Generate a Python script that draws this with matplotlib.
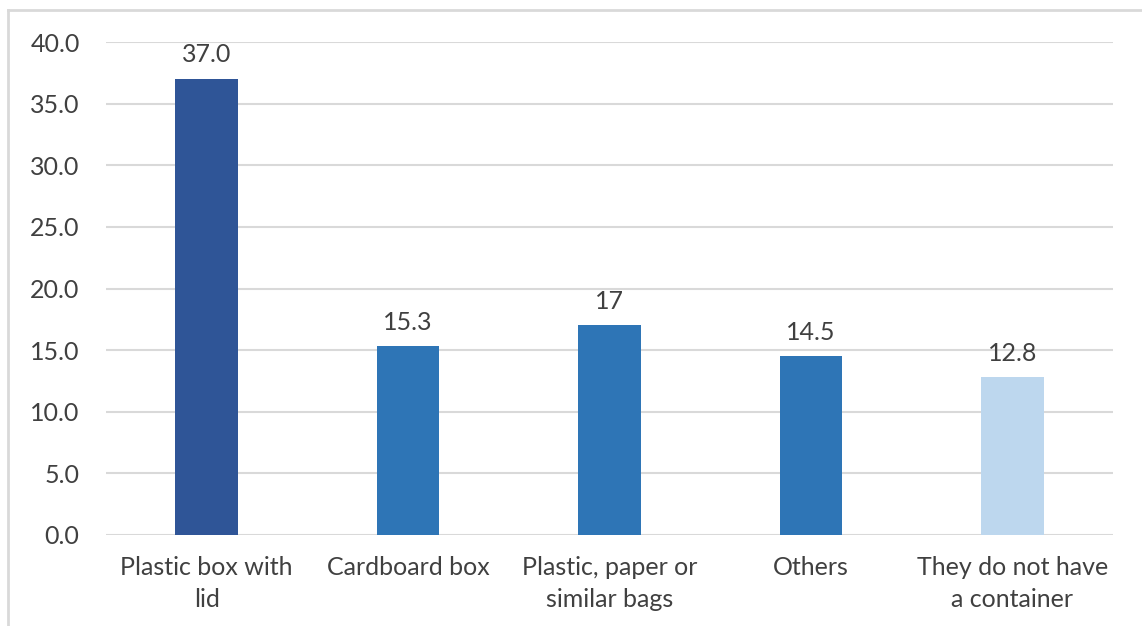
import matplotlib.pyplot as plt
import numpy as np

categories = ['Plastic box with\nlid', 'Cardboard box', 'Plastic, paper or\nsimilar bags',
              'Others', 'They do not have\na container']
values = [37.0, 15.3, 17.0, 14.5, 12.8]
value_labels = ['37.0', '15.3', '17', '14.5', '12.8']
bar_colors = ['#2F5597', '#2E75B6', '#2E75B6', '#2E75B6', '#BDD7EE']
yticks = [0, 5, 10, 15, 20, 25, 30, 35, 40]

plt.rcParams['font.family'] = ['Lato', 'DejaVu Sans']
text_color = '#404040'
fs = 18

W, H = 1142, 626
fig = plt.figure(figsize=(W / 100, H / 100), dpi=100)
ax = fig.add_axes([106 / W, 1 - 535 / H, (1113 - 106) / W, (535 - 42) / H])

x = np.arange(len(categories))
ax.bar(x, values, width=0.31, color=bar_colors, zorder=3)
ax.set_xlim(-0.5, len(categories) - 0.5)
ax.set_ylim(0, 40)
ax.set_yticks(yticks)
ax.set_yticklabels(['%.1f' % t for t in yticks])
ax.set_xticks(x)
ax.set_xticklabels(categories, linespacing=1.5)
ax.tick_params(axis='both', length=0, labelsize=fs, colors=text_color)
ax.tick_params(axis='x', pad=15)
ax.tick_params(axis='y', pad=19)
ax.grid(axis='y', color='#D9D9D9', linewidth=1.5, zorder=0)
for s in ax.spines.values():
    s.set_visible(False)

for xi, v, lab in zip(x, values, value_labels):
    ax.annotate(lab, (xi, v), xytext=(0, 9), textcoords='offset points',
                ha='center', va='bottom', fontsize=fs, color=text_color)

# light outer border like the source chart frame
fig.add_artist(plt.Line2D([8 / W, 8 / W], [0, 1 - 10 / H], color='#D9D9D9', lw=2,
                          transform=fig.transFigure))
fig.add_artist(plt.Line2D([8 / W, 1], [1 - 10 / H, 1 - 10 / H], color='#D9D9D9', lw=2,
                          transform=fig.transFigure))

fig.savefig('out.png', dpi=100)
